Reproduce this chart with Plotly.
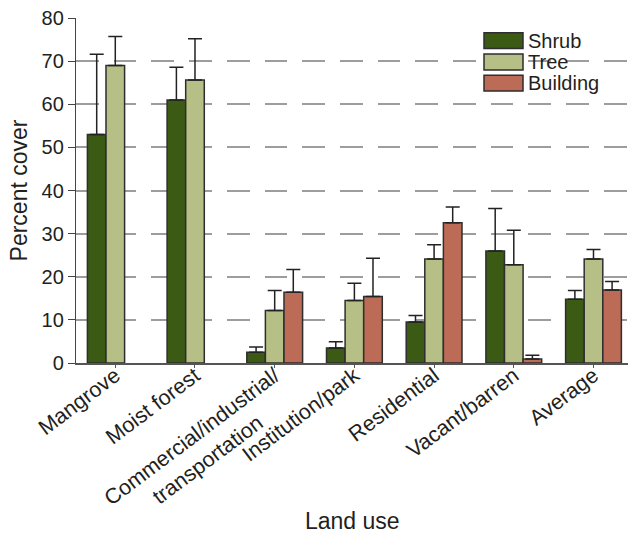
import plotly.graph_objects as go

# ---- data ----
categories = ["Mangrove", "Moist forest",
              "Commercial/industrial/<br>transportation" + "\u00a0" * 7,
              "Institution/park", "Residential", "Vacant/barren", "Average"]
shrub = [53.0, 61.0, 2.5, 3.5, 9.5, 26.0, 14.8]
shrub_err = [18.6, 7.6, 1.2, 1.4, 1.5, 9.8, 2.0]
tree = [69.0, 65.6, 12.2, 14.5, 24.1, 22.8, 24.1]
tree_err = [6.7, 9.6, 4.6, 4.0, 3.3, 8.0, 2.2]
building = [None, None, 16.4, 15.4, 32.5, 0.9, 16.9]
building_err = [None, None, 5.3, 8.9, 3.7, 0.9, 2.0]
series_names = ["Shrub", "Tree", "Building"]
y_ticks = [0, 10, 20, 30, 40, 50, 60, 70, 80]

colors = ["#3b5a14", "#b6bf85", "#bb6b56"]
FONT = "Liberation Sans, Arial, Helvetica, sans-serif"
TXT = "#231f20"

# plot-area geometry (pixels) used for legend placement
L, R, T, B = 76, 628, 18, 363
def px_x(px):
    return (px - L) / (R - L)
def px_y(py):
    return (B - py) / (B - T)

fig = go.Figure()
for name, vals, errs, col in zip(series_names, [shrub, tree, building],
                                 [shrub_err, tree_err, building_err], colors):
    fig.add_trace(go.Bar(
        x=categories, y=vals, name=name, showlegend=False,
        marker=dict(color=col, line=dict(color="#2e2e2e", width=1.5)),
        error_y=dict(type="data", symmetric=False, array=errs,
                     arrayminus=[0 if e is not None else None for e in errs],
                     color="#222222", thickness=1.5, width=7),
    ))

# manual legend (wide swatches like the reference)
rows = [(32.7, 48.5), (54.0, 70.0), (75.3, 91.0)]
for (y0, y1), name, col in zip(rows, series_names, colors):
    fig.add_shape(type="rect", xref="paper", yref="paper",
                  x0=px_x(484), x1=px_x(523), y0=px_y(y1), y1=px_y(y0),
                  fillcolor=col, line=dict(color="#2e2e2e", width=1.5))
    fig.add_annotation(xref="paper", yref="paper", x=px_x(525.5),
                       y=px_y((y0 + y1) / 2), text=name, showarrow=False,
                       xanchor="left", yanchor="middle",
                       font=dict(family=FONT, size=20, color=TXT))

fig.add_annotation(xref="paper", yref="paper", x=0.5, y=px_y(521),
                   text="Land use", showarrow=False, xanchor="center",
                   yanchor="middle", font=dict(family=FONT, size=23, color=TXT))

fig.update_layout(
    width=629, height=536,
    margin=dict(l=L, r=629 - R, t=T, b=536 - B, autoexpand=False),
    paper_bgcolor="white", plot_bgcolor="white",
    barmode="group", bargap=0.3, bargroupgap=0,
    font=dict(family=FONT, size=20, color=TXT),
    xaxis=dict(
        type="category", range=[-0.493, 6.433],
        showline=True, linecolor="#555555", linewidth=1.5,
        ticks="outside", ticklen=3, tickcolor="#555555",
        tickangle=-37, tickfont=dict(size=21.5, family=FONT, color=TXT),
        ticklabelstandoff=-13,
        showgrid=False, automargin=False,
    ),
    yaxis=dict(
        range=[0, 80], tickvals=y_ticks,
        showline=True, linecolor="#444444", linewidth=1.3,
        ticks="outside", ticklen=7, tickcolor="#444444",
        tickfont=dict(size=20, family=FONT, color=TXT),
        showgrid=True, gridcolor="#9d9d9d", gridwidth=1.5,
        griddash="22.7px,15px", zeroline=False, automargin=False,
        title=dict(text="Percent cover", standoff=7,
                   font=dict(size=23, family=FONT, color=TXT)),
    ),
)

fig.write_html("out.html", config={"displayModeBar": False},
               post_script="document.body.style.margin='0';document.body.style.padding='0';")
